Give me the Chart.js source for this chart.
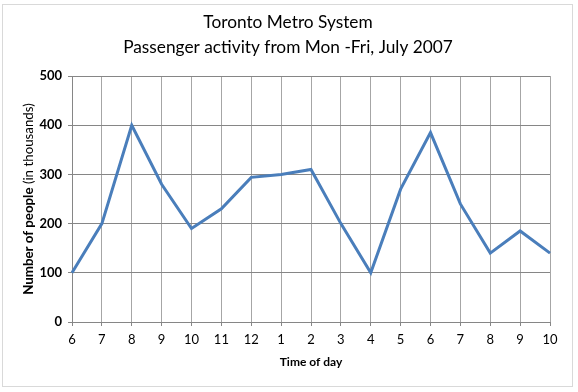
<!DOCTYPE html>
<html>
<head>
<meta charset="utf-8">
<script src="https://cdn.jsdelivr.net/npm/chart.js@4"></script>
<style>
  html, body { margin: 0; padding: 0; background: #fff; }
  #wrap { position: relative; width: 578px; height: 392px; }
  #frame { position: absolute; left: 2px; top: 4px; width: 571px; height: 383px; border: 1px solid #d9d9d9; box-sizing: border-box; pointer-events: none; }
  canvas { position: absolute; left: 0; top: 0; }
</style>
</head>
<body>
<div id="wrap">
  <canvas id="c" width="578" height="392"></canvas>
  <div id="frame"></div>
</div>
<script>
const titleLines = ["Toronto Metro System", "Passenger activity from Mon -Fri, July 2007"];
const xTitle = "Time of day";
const yTitleBold = "Number of people";
const yTitleRegular = " (in thousands)";
const hours = ["6", "7", "8", "9", "10", "11", "12", "1", "2", "3", "4", "5", "6", "7", "8", "9", "10"];
const passengers = [100, 200, 400, 280, 190, 230, 294, 300, 310, 200, 100, 270, 385, 240, 140, 185, 140];
const yTicks = [0, 100, 200, 300, 400, 500];

const FONT = "Lato, 'Liberation Sans', sans-serif";

const textPlugin = {
  id: 'texts',
  afterDraw(chart) {
    const ctx = chart.ctx;
    const a = chart.chartArea;
    ctx.save();
    ctx.fillStyle = '#000';
    ctx.textAlign = 'center';
    ctx.textBaseline = 'middle';
    ctx.font = "17.3px " + FONT;
    ctx.fillText(titleLines[0], 288, 22);
    ctx.fillText(titleLines[1], 288, 47);
    ctx.font = "bold 12px " + FONT;
    ctx.fillText(xTitle, (a.left + a.right) / 2, 362);
    ctx.translate(29, (a.top + a.bottom) / 2);
    ctx.rotate(-Math.PI / 2);
    ctx.font = "bold 13.3px " + FONT;
    const wb = ctx.measureText(yTitleBold).width;
    ctx.font = "13.3px " + FONT;
    const wr = ctx.measureText(yTitleRegular).width;
    const start = -(wb + wr) / 2;
    ctx.textAlign = 'left';
    ctx.font = "bold 13.3px " + FONT;
    ctx.fillText(yTitleBold, start, 0);
    ctx.font = "13.3px " + FONT;
    ctx.fillText(yTitleRegular, start + wb, 0);
    ctx.restore();
  }
};

new Chart(document.getElementById('c'), {
  type: 'line',
  data: {
    labels: hours,
    datasets: [{
      data: passengers,
      borderColor: '#4a7ebb',
      borderWidth: 3,
      pointRadius: 0,
      tension: 0,
      fill: false
    }]
  },
  options: {
    responsive: false,
    animation: false,
    layout: { padding: { left: 0, right: 28, top: 76, bottom: 40 } },
    plugins: { legend: { display: false }, title: { display: false }, tooltip: { enabled: false } },
    scales: {
      x: {
        offset: false,
        afterFit(s) { s.height = 30; },
        grid: { color: '#a6a6a6', lineWidth: 1, tickLength: 4, tickColor: '#868686' },
        border: { color: '#868686', width: 1 },
        ticks: { color: '#000', font: { family: FONT, size: 13 }, padding: 6, maxRotation: 0, autoSkip: false }
      },
      y: {
        min: 0, max: 500,
        afterFit(s) { s.width = 72; },
        afterBuildTicks(s) { s.ticks = yTicks.map(v => ({ value: v })); },
        grid: { color: '#868686', lineWidth: 1, tickLength: 4, tickColor: '#868686' },
        border: { color: '#868686', width: 1 },
        ticks: { color: '#000', font: { family: FONT, size: 13, weight: 'bold' }, padding: 6 }
      }
    }
  },
  plugins: [textPlugin]
});
</script>
</body>
</html>
